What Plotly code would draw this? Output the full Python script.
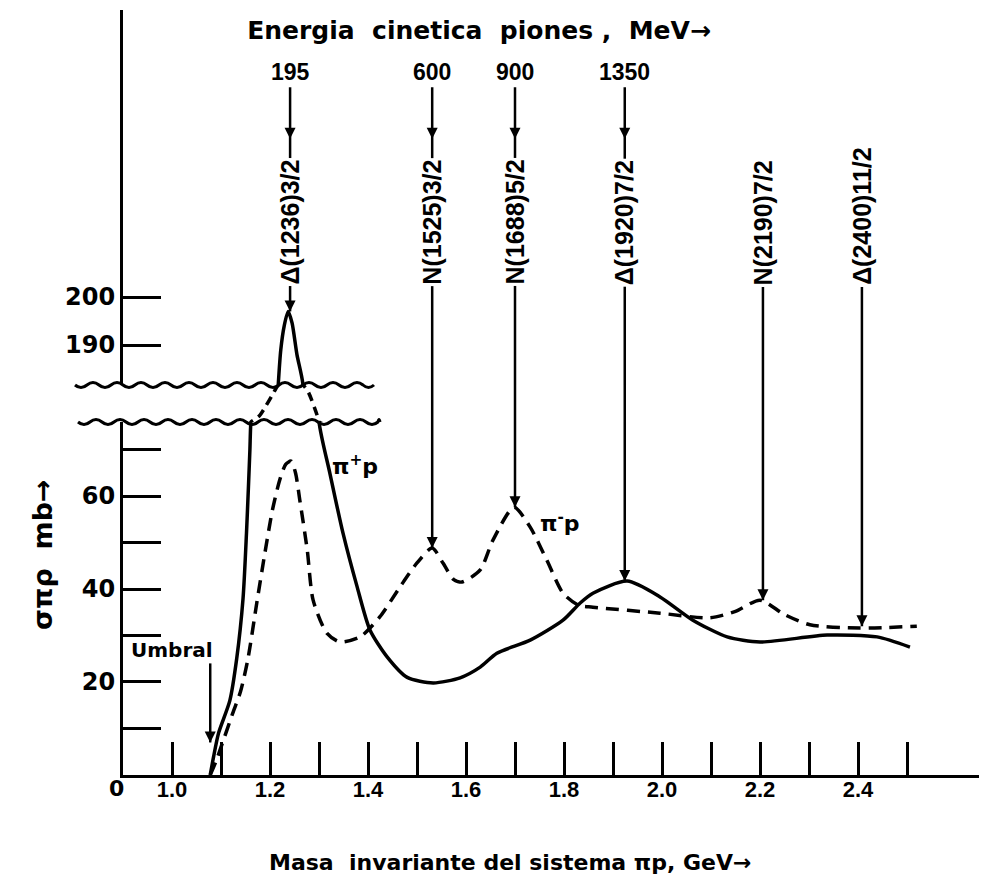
import plotly.graph_objects as go

# ---------------- data ----------------
# pi+ p total cross-section (solid line), mass in GeV, sigma in mb
pip_mass = [1.078, 1.085, 1.095, 1.118, 1.132, 1.145, 1.152, 1.156, 1.159, 1.161,
            1.178, 1.214, 1.217, 1.222, 1.229, 1.237, 1.245, 1.255, 1.267,
            1.278, 1.296, 1.300, 1.322, 1.349, 1.378, 1.404, 1.439, 1.480,
            1.533, 1.588, 1.629, 1.663, 1.731, 1.798, 1.833, 1.859, 1.929,
            1.996, 2.063, 2.133, 2.200, 2.337, 2.439, 2.506]
pip_sigma = [0, 4, 9, 16, 25, 38, 52, 62, 70, 76,
             93, 176, 182, 189, 194, 197, 194.6, 188, 182,
             162, 96, 76, 65, 52, 40.4, 31.2, 25.4, 21,
             19.8, 20.9, 23.2, 26.2, 29, 33.3, 37, 39.1, 41.7,
             38.3, 33.3, 29.7, 28.6, 30.1, 29.7, 27.5]

# pi- p total cross-section (dashed line)
pim_mass = [1.078, 1.090, 1.100, 1.124, 1.140, 1.155, 1.173, 1.190, 1.205, 1.220,
            1.232, 1.243, 1.252, 1.261, 1.276, 1.288, 1.316, 1.343, 1.384, 1.424,
            1.465, 1.500, 1.531, 1.553, 1.575, 1.592, 1.629, 1.655, 1.698, 1.731,
            1.765, 1.798, 1.830, 1.859, 1.996, 2.098, 2.150, 2.200, 2.250, 2.302,
            2.404, 2.520]
pim_sigma = [0, 3, 6, 13.3, 18, 25, 37, 48, 57, 63.5,
             66.8, 67.5, 65, 59, 48.4, 37.6, 30.5, 28.6, 29.7, 34,
             40.4, 45.6, 48.8, 45.6, 42, 41.5, 44.1, 50.5, 57.6, 53.3,
             46.2, 39.1, 36.5, 36.1, 34.8, 33.8, 35.2, 37.6, 34.5, 32.3,
             31.6, 32]

# resonances marked by arrows
res_labels = ["Δ(1236)3/2", "N(1525)3/2", "N(1688)5/2", "Δ(1920)7/2", "N(2190)7/2", "Δ(2400)11/2"]
res_mass = [1.241, 1.531, 1.700, 1.924, 2.206, 2.408]
res_sigma = [197, 48.8, 57.6, 41.7, 37.6, 32.0]
res_energy = ["195", "600", "900", "1350", "", ""]  # pion kinetic energy, MeV

threshold_mass = 1.078

x_major = [1.0, 1.2, 1.4, 1.6, 1.8, 2.0, 2.2, 2.4]
x_major_text = ["1.0", "1.2", "1.4", "1.6", "1.8", "2.0", "2.2", "2.4"]
x_minor = [1.1, 1.3, 1.5, 1.7, 1.9, 2.1, 2.3, 2.5]
y_low_major = [20, 40, 60]
y_low_text = ["20", "40", "60"]
y_low_minor = [10, 30, 50, 70]
y_up_ticks = [190, 200]
y_up_text = ["190", "200"]

# ---------------- layout geometry ----------------
OFF = 8                      # browser body margin around the plot div
W, H = 987 - OFF, 882 - OFF
ML, MR, MT, MB = 123 - OFF, 0, 10 - OFF, 107
PW, PH = W - ML - MR, H - MT - MB
LOW_RANGE = [0, 75.91]
UP_RANGE = [181.67, 259.8]
LOW_DOM = [0, 0.4614]
UP_DOM = [0.5098, 1]
GAP_DOM = [LOW_DOM[1], UP_DOM[0]]
LINE_TOP = 243.7      # top of resonance arrows (upper-axis units)
LABEL_BOTTOM = 202.1  # bottom of rotated resonance labels
HEAD_TOP = 233.0      # upper arrow heads
ENERGY_Y = 246.9
UMBRAL_TAIL, UMBRAL_HEAD = 24, 7

def px(x):   # page pixel -> paper fraction
    return (x - 123) / PW

def py(y):
    return (775 - y) / PH

BOLD_DV = "DejaVu Sans"
BOLD_LS = "Liberation Sans"
HEAD = dict(symbol="arrow-down", size=11, color="black", line=dict(width=0))

fig = go.Figure()

# curves on the three stacked axes (lower, break, upper)
for yax in ["y", "y3", "y2"]:
    fig.add_trace(go.Scatter(
        x=pip_mass, y=pip_sigma, mode="lines", xaxis="x", yaxis=yax,
        line=dict(color="black", width=3.5, shape="spline", smoothing=0.7,
                  dash="solid" if yax != "y3" else "9px,6px"),
        hoverinfo="skip", showlegend=False))
fig.add_trace(go.Scatter(
    x=pim_mass, y=pim_sigma, mode="lines", xaxis="x", yaxis="y",
    line=dict(color="black", width=3.5, dash="13px,8px", shape="spline", smoothing=0.7),
    hoverinfo="skip", showlegend=False))

# resonance arrow shafts
for m, s, e in zip(res_mass, res_sigma, res_energy):
    top = LINE_TOP if e else LABEL_BOTTOM
    for yax in ["y", "y3", "y2"]:
        fig.add_trace(go.Scatter(
            x=[m, m], y=[s, top], mode="lines", xaxis="x", yaxis=yax,
            line=dict(color="black", width=2.5), hoverinfo="skip", showlegend=False))

# arrow heads pointing at the curves (tip of 'arrow-down' symbol sits on the point)
low_x = [m for m, s in zip(res_mass, res_sigma) if s <= LOW_RANGE[1]] + [threshold_mass]
low_y = [s for s in res_sigma if s <= LOW_RANGE[1]] + [UMBRAL_HEAD]
up_x = [m for m, s in zip(res_mass, res_sigma) if s > LOW_RANGE[1]]
up_y = [s for s in res_sigma if s > LOW_RANGE[1]]
up_x += [m for m, e in zip(res_mass, res_energy) if e]
up_y += [HEAD_TOP for e in res_energy if e]
fig.add_trace(go.Scatter(x=low_x, y=low_y, mode="markers", xaxis="x", yaxis="y",
                         marker=HEAD, cliponaxis=False, hoverinfo="skip", showlegend=False))
fig.add_trace(go.Scatter(x=up_x, y=up_y, mode="markers", xaxis="x", yaxis="y2",
                         marker=HEAD, cliponaxis=False, hoverinfo="skip", showlegend=False))

# threshold arrow shaft
fig.add_trace(go.Scatter(x=[threshold_mass, threshold_mass], y=[UMBRAL_HEAD, UMBRAL_TAIL],
                         mode="lines", xaxis="x", yaxis="y",
                         line=dict(color="black", width=2.5), hoverinfo="skip", showlegend=False))

ann = []
for lab, m, s, e in zip(res_labels, res_mass, res_sigma, res_energy):
    ann.append(dict(x=m, y=LABEL_BOTTOM, xref="x", yref="y2", text=lab, textangle=-90,
                    showarrow=False, xanchor="center", yanchor="bottom",
                    bgcolor="white", borderpad=1,
                    font=dict(family=BOLD_LS, size=25, color="black", weight="bold")))
    if e:
        ann.append(dict(x=m, y=ENERGY_Y, xref="x", yref="y2", text=e, showarrow=False,
                        xanchor="center", yanchor="middle",
                        font=dict(family=BOLD_LS, size=23, color="black", weight="bold")))

ann.append(dict(x=1.0, y=26.9, xref="x", yref="y", text="Umbral", showarrow=False,
                font=dict(family=BOLD_DV, size=20, color="black", weight="bold")))

# curve labels
ann.append(dict(x=1.373, y=66.7, xref="x", yref="y", text="π<sup>+</sup>p", showarrow=False,
                font=dict(family=BOLD_DV, size=22, color="black", weight="bold")))
ann.append(dict(x=1.792, y=54.4, xref="x", yref="y", text="π<sup>-</sup>p", showarrow=False,
                font=dict(family=BOLD_DV, size=22, color="black", weight="bold")))

# axis titles and origin label
ann.append(dict(x=px(510), y=py(862), xref="paper", yref="paper",
                text="Masa  invariante del sistema πp, GeV→", showarrow=False,
                xanchor="center", yanchor="middle",
                font=dict(family=BOLD_DV, size=22, color="black", weight="bold")))
ann.append(dict(x=px(42), y=py(555), xref="paper", yref="paper",
                text="σπρ  mb→", textangle=-90, showarrow=False,
                xanchor="center", yanchor="middle",
                font=dict(family=BOLD_DV, size=27, color="black", weight="bold")))
ann.append(dict(x=px(116), y=py(788), xref="paper", yref="paper", text="0",
                showarrow=False, xanchor="center", yanchor="middle",
                font=dict(family=BOLD_DV, size=22, color="black", weight="bold")))

# wavy axis-break lines
def wavy(ypix, x0, x1, amp=2.5, step=12):
    d = f"M {px(x0):.5f},{py(ypix):.5f}"
    x = x0
    k = 0
    while x < x1:
        xn = min(x + step, x1)
        cy = ypix + (amp if k % 2 == 0 else -amp) * 2
        d += f" Q {px((x + xn) / 2):.5f},{py(cy):.5f} {px(xn):.5f},{py(ypix):.5f}"
        x = xn
        k += 1
    return d

shapes = [
    dict(type="path", path=wavy(385, 75, 374), xref="paper", yref="paper",
         line=dict(color="black", width=3)),
    dict(type="path", path=wavy(422, 78, 380), xref="paper", yref="paper",
         line=dict(color="black", width=3)),
]

axis_common = dict(showline=True, linecolor="black", linewidth=3, showgrid=False,
                   zeroline=False, ticks="inside", tickcolor="black", tickwidth=3)

fig.update_layout(
    width=W, height=H,
    margin=dict(l=ML, r=MR, t=MT, b=MB),
    paper_bgcolor="white", plot_bgcolor="white",
    showlegend=False,
    title=dict(text="Energia  cinetica  piones ,  MeV→", xref="paper", x=px(479),
               xanchor="center", yref="container", y=1 - (30 - OFF) / H, yanchor="middle",
               font=dict(family=BOLD_DV, size=25, color="black", weight="bold")),
    xaxis=dict(domain=[0, 1], range=[0.9, 0.9 + PW / 490], anchor="y",
               tickvals=x_major, ticktext=x_major_text, ticklen=33, ticklabelstandoff=-7,
               tickfont=dict(family=BOLD_LS, size=22, color="black", weight="bold"),
               minor=dict(tickvals=x_minor, ticks="inside", ticklen=33, tickwidth=3,
                          tickcolor="black", showgrid=False),
               **axis_common),
    yaxis=dict(domain=LOW_DOM, range=LOW_RANGE, anchor="x",
               tickvals=y_low_major, ticktext=y_low_text, ticklen=38,
               tickfont=dict(family=BOLD_DV, size=24, color="black", weight="bold"),
               minor=dict(tickvals=y_low_minor, ticks="inside", ticklen=38, tickwidth=3,
                          tickcolor="black", showgrid=False),
               **axis_common),
    yaxis2=dict(domain=UP_DOM, range=UP_RANGE, anchor="x",
                tickvals=y_up_ticks, ticktext=y_up_text, ticklen=38,
                tickfont=dict(family=BOLD_DV, size=24, color="black", weight="bold"),
                **axis_common),
    yaxis3=dict(domain=GAP_DOM, range=[LOW_RANGE[1], UP_RANGE[0]], anchor="x",
                visible=False, showgrid=False, zeroline=False),
    annotations=ann,
    shapes=shapes,
)

fig.write_html("out.html")
